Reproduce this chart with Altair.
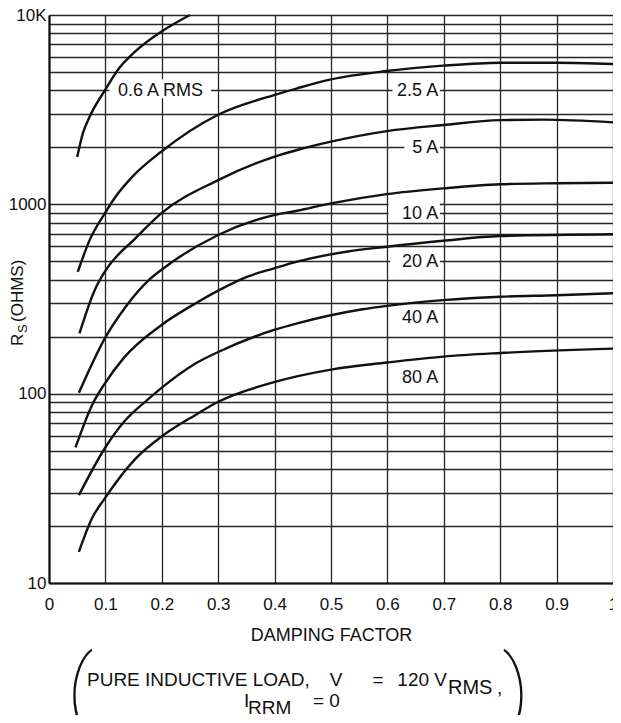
import altair as alt
import pandas as pd

# ---------------- data ----------------
currents = ["0.6 A RMS", "2.5 A", "5 A", "10 A", "20 A", "40 A", "80 A"]

i06_x = [0.050, 0.060, 0.072, 0.099, 0.124, 0.150, 0.199, 0.250]
i06_y = [1780, 2370, 2900, 4000, 5220, 6300, 8160, 10000]

i25_x = [0.051, 0.072, 0.099, 0.118, 0.148, 0.199, 0.299, 0.399, 0.44, 0.5, 0.599, 0.699, 0.8, 0.9, 1.0]
i25_y = [440, 647, 896, 1096, 1400, 1897, 2964, 3776, 4100, 4570, 5060, 5400, 5600, 5600, 5510]

i5_x = [0.054, 0.081, 0.099, 0.154, 0.199, 0.3, 0.399, 0.44, 0.5, 0.599, 0.699, 0.8, 0.877, 1.0]
i5_y = [208, 352, 441, 665, 896, 1343, 1782, 1936, 2143, 2436, 2624, 2785, 2800, 2711]

i10_x = [0.053, 0.099, 0.136, 0.177, 0.199, 0.3, 0.399, 0.44, 0.5, 0.599, 0.699, 0.8, 0.9, 1.0]
i10_y = [101, 196, 288, 398, 450, 689, 877, 925, 1011, 1132, 1214, 1276, 1292, 1300]

i20_x = [0.047, 0.078, 0.098, 0.133, 0.199, 0.264, 0.3, 0.352, 0.399, 0.44, 0.527, 0.599, 0.699, 0.8, 1.0]
i20_y = [52, 89, 112, 155, 230, 305, 350, 415, 459, 498, 562, 597, 642, 680, 695]

i40_x = [0.053, 0.099, 0.133, 0.174, 0.199, 0.259, 0.3, 0.399, 0.44, 0.556, 0.599, 0.699, 0.8, 0.9, 1.0]
i40_y = [29.1, 51.5, 71, 92.5, 107, 144, 166, 217, 235, 279, 291, 312, 325, 331, 339]

i80_x = [0.053, 0.076, 0.099, 0.154, 0.199, 0.259, 0.3, 0.399, 0.5, 0.599, 0.699, 0.8, 1.0]
i80_y = [14.6, 21.9, 28, 45.5, 59.2, 77, 90.6, 115, 134, 146, 157, 164, 173]

# curve labels (right end of text, value of gridline they sit on)
label_x = [0.273, 0.69, 0.69, 0.69, 0.69, 0.69, 0.69]
label_y = [4000, 4000, 2000, 900, 500, 255, 123]
box_x1 = [0.107, 0.609, 0.630, 0.602, 0.605, 0.605, 0.605]
box_x2 = [0.287, 0.693, 0.693, 0.693, 0.693, 0.693, 0.693]

x_ticks = [round(i * 0.1, 1) for i in range(11)]
y_grid = [m * 10 ** e for e in (1, 2, 3) for m in range(1, 10)] + [10000]

# ---------------- tables ----------------
xs_all = [i06_x, i25_x, i5_x, i10_x, i20_x, i40_x, i80_x]
ys_all = [i06_y, i25_y, i5_y, i10_y, i20_y, i40_y, i80_y]
rows = []
for name, xs, ys in zip(currents, xs_all, ys_all):
    for a, b in zip(xs, ys):
        rows.append({"curve": name, "d": a, "r": b})
df = pd.DataFrame(rows)

lab = pd.DataFrame({"lab": currents, "d": label_x, "r": label_y,
                    "b1": box_x1, "b2": box_x2})

SANS = "Liberation Sans, Arial, Helvetica, sans-serif"
GRID = "#262626"
INK = "#111"

x_scale = alt.Scale(domain=[0, 1], nice=False, zero=True)
y_scale = alt.Scale(type="log", domain=[10, 10000], nice=False)

x_axis = alt.Axis(
    values=x_ticks, title="DAMPING FACTOR", grid=True, gridColor=GRID, gridWidth=1.3,
    gridOpacity=1, ticks=False, domainColor=INK, domainWidth=2.2,
    labelExpr="datum.value == 0 ? '0' : datum.value == 1 ? '1' : format(datum.value, '.1f')",
    labelFont=SANS, labelFontSize=17, labelColor=INK, labelPadding=13,
    labelOverlap=False, labelBound=False, labelFlush=False,
    titleFont=SANS, titleFontSize=18, titleFontWeight="normal", titleColor=INK,
    titlePadding=14,
)
y_axis = alt.Axis(
    values=y_grid, title=None, grid=True, gridColor=GRID, gridWidth=1.3, gridOpacity=1,
    ticks=False, domainColor=INK, domainWidth=2.2,
    labelExpr="datum.value == 10 ? '10' : datum.value == 100 ? '100' : datum.value == 1000 ? '1000' : datum.value == 10000 ? '10K' : ''",
    labelFont=SANS, labelFontSize=17, labelColor=INK, labelPadding=3,
    labelOverlap=False, labelBound=False, labelFlush=False,
)

lines = alt.Chart(df).mark_line(color=INK, strokeWidth=2.4, interpolate="monotone").encode(
    x=alt.X("d:Q", scale=x_scale, axis=x_axis),
    y=alt.Y("r:Q", scale=y_scale, axis=y_axis),
    detail="curve:N",
)

boxes = alt.Chart(lab).mark_rect(color="white", yOffset=-11, y2Offset=8).encode(
    x=alt.X("b1:Q", scale=x_scale, title="DAMPING FACTOR"),
    x2="b2:Q",
    y=alt.Y("r:Q", scale=y_scale, title=""),
    y2="r:Q",
)

labels = alt.Chart(lab).mark_text(align="right", baseline="middle", font=SANS,
                                  fontSize=18, color=INK, dy=1).encode(
    x=alt.X("d:Q", scale=x_scale, title="DAMPING FACTOR"),
    y=alt.Y("r:Q", scale=y_scale, title=""),
    text="lab:N",
)


def note(txt, px, py, size=19, align="left", baseline="alphabetic", font=SANS,
         angle=0, weight="normal"):
    return alt.Chart(alt.Data(values=[{"t": txt}])).mark_text(
        align=align, baseline=baseline, font=font, fontSize=size, angle=angle,
        fontWeight=weight, color=INK,
    ).encode(x=alt.value(px), y=alt.value(py), text="t:N")


notes = [
    # y-axis title R_S(OHMS)
    note("R", -26, 331, size=17, angle=270),
    note("S", -22, 318, size=13, angle=270),
    note("(OHMS)", -26, 307, size=17, angle=270),
    # bottom condition text
    note("PURE INDUCTIVE LOAD,", 38, 671),
    note("V", 287, 671, align="center"),
    note("=", 329, 671, align="center"),
    note("120 V", 398, 671, align="right"),
    note("RMS", 399, 679, size=20),
    note(",", 448, 679, size=19),
    note("I", 195, 692),
    note("RRM", 199, 699, size=19),
    note("= 0", 264, 692),
    note("(", 31, 679, size=90, align="center", baseline="middle", font="Roboto", weight=100),
    note(")", 467, 679, size=90, align="center", baseline="middle", font="Roboto", weight=100),
]

chart = alt.layer(boxes, lines, labels, *notes).properties(
    width=564, height=568,
    autosize=alt.AutoSizeParams(type="none"),
    padding={"left": 41, "top": 7, "right": 0, "bottom": 132},
).configure_view(stroke=None)

chart.save("out.html", embed_options={"renderer": "svg", "actions": False})
